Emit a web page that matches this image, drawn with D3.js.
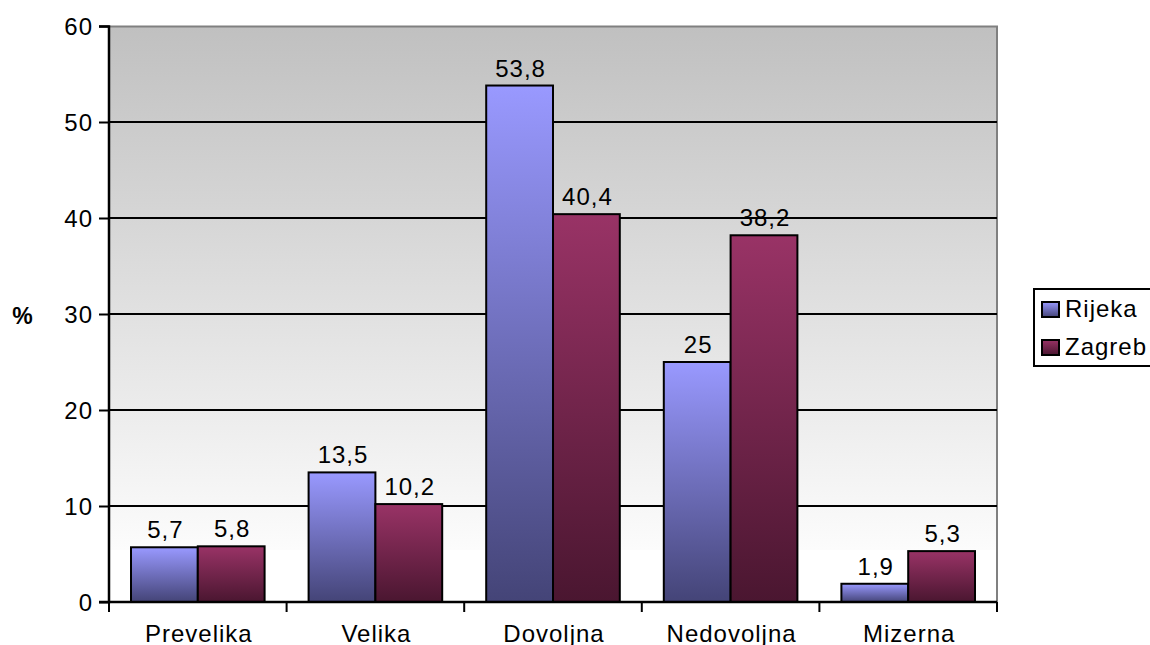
<!DOCTYPE html>
<html>
<head>
<meta charset="utf-8">
<script src="https://cdn.jsdelivr.net/npm/d3@7"></script>
<style>
  body { margin: 0; background: #fff; }
  text { font-family: "Liberation Sans", Arial, sans-serif; fill: #000; letter-spacing: 1px; }
</style>
</head>
<body>
<script>
var categories = ["Prevelika", "Velika", "Dovoljna", "Nedovoljna", "Mizerna"];
var seriesNames = ["Rijeka", "Zagreb"];
var rijeka = [5.7, 13.5, 53.8, 25, 1.9];
var zagreb = [5.8, 10.2, 40.4, 38.2, 5.3];
var yTicks = [0, 10, 20, 30, 40, 50, 60];

var W = 1150, H = 645;
var margin = {top: 26, right: 153, bottom: 43, left: 109},
	width = W - margin.left - margin.right,
	height = H - margin.top - margin.bottom;

var svg = d3.select("body").append("svg")
	.attr("width", W)
	.attr("height", H);

var defs = svg.append("defs");
var bg = defs.append("linearGradient").attr("id", "bg")
	.attr("x1", 0).attr("y1", 0).attr("x2", 0).attr("y2", 1);
bg.append("stop").attr("offset", "0%").attr("stop-color", "#c0c0c0");
bg.append("stop").attr("offset", "91%").attr("stop-color", "#fcfcfc");
bg.append("stop").attr("offset", "91%").attr("stop-color", "#ffffff");

var grads = [["#9999ff", "#444477"], ["#993366", "#4a1630"]];
grads.forEach(function(c, i) {
	var g = defs.append("linearGradient").attr("id", "s" + i)
		.attr("x1", 0).attr("y1", 0).attr("x2", 0).attr("y2", 1);
	g.append("stop").attr("offset", "0%").attr("stop-color", c[0]);
	g.append("stop").attr("offset", "100%").attr("stop-color", c[1]);
});

var chart = svg.append("g")
	.attr("transform", "translate(" + margin.left + "," + margin.top + ")");

var x = d3.scaleBand().domain(categories).range([0, width]).paddingInner(0).paddingOuter(0);
var xs = d3.scaleBand().domain(seriesNames).range([22, x.bandwidth() - 22]);
var y = d3.scaleLinear().domain([0, 60]).range([height, 0]);

// plot background
chart.append("rect")
	.attr("width", width).attr("height", height)
	.attr("fill", "url(#bg)");
chart.append("path")
	.attr("d", "M0,0.5H" + width + "V" + height)
	.attr("fill", "none").attr("stroke", "#808080").attr("stroke-width", 2);

// gridlines
chart.selectAll(".grid").data(yTicks.filter(function(d) { return d > 0 && d < 60; }))
	.enter().append("line")
	.attr("x1", 0).attr("x2", width)
	.attr("y1", function(d) { return y(d); }).attr("y2", function(d) { return y(d); })
	.attr("stroke", "#000").attr("stroke-width", 2);

var data = categories.map(function(c, i) {
	return {cat: c, vals: [rijeka[i], zagreb[i]]};
});

var grp = chart.selectAll(".grp").data(data).enter().append("g")
	.attr("transform", function(d) { return "translate(" + x(d.cat) + ",0)"; });

grp.selectAll("rect").data(function(d) {
		return d.vals.map(function(v, i) { return {s: seriesNames[i], i: i, v: v}; });
	})
	.enter().append("rect")
	.attr("x", function(d) { return xs(d.s); })
	.attr("width", xs.bandwidth())
	.attr("y", function(d) { return y(d.v); })
	.attr("height", function(d) { return y(0) - y(d.v); })
	.attr("fill", function(d) { return "url(#s" + d.i + ")"; })
	.attr("stroke", "#000").attr("stroke-width", 2);

grp.selectAll(".lbl").data(function(d) {
		return d.vals.map(function(v, i) { return {s: seriesNames[i], v: v}; });
	})
	.enter().append("text")
	.attr("x", function(d) { return xs(d.s) + xs.bandwidth() / 2 + 1; })
	.attr("y", function(d) { return y(d.v) - 9; })
	.attr("text-anchor", "middle")
	.style("font-size", "24px")
	.text(function(d) { return String(d.v).replace(".", ","); });

// axes
var yAxis = d3.axisLeft(y).tickValues(yTicks).tickSize(10).tickPadding(6);
var ya = chart.append("g").call(yAxis);
ya.select(".domain").attr("stroke-width", 2.5).attr("d", "M-10,0.5H0V" + height + "H-10");
ya.selectAll("line").attr("stroke-width", 2);
ya.selectAll("text").style("font-size", "24px").attr("dy", "0.35em");

var xAxis = d3.axisBottom(x).tickSize(0).tickPadding(23);
var xa = chart.append("g").attr("transform", "translate(0," + height + ")").call(xAxis);
xa.select(".domain").attr("stroke-width", 2.5).attr("d", "M0,0H" + width);
xa.selectAll(".tick text").style("font-size", "24px").attr("dy", "0.71em").attr("dx", 1);
xa.selectAll(".sep").data(d3.range(categories.length + 1)).enter().append("line")
	.attr("x1", function(d) { return d * x.step(); })
	.attr("x2", function(d) { return d * x.step(); })
	.attr("y1", 0).attr("y2", 10)
	.attr("stroke", "#000").attr("stroke-width", 2);

// y title
svg.append("text")
	.attr("x", 23).attr("y", 324)
	.attr("text-anchor", "middle")
	.style("font-size", "23px").style("font-weight", "bold")
	.text("%");

// legend
var lgd = svg.append("g").attr("transform", "translate(1034,289)");
lgd.append("rect").attr("width", 118).attr("height", 77)
	.attr("fill", "#fff").attr("stroke", "#000").attr("stroke-width", 2);
seriesNames.forEach(function(n, i) {
	var row = lgd.append("g").attr("transform", "translate(8," + (13 + i * 38) + ")");
	row.append("rect").attr("width", 17).attr("height", 15)
		.attr("fill", "url(#s" + i + ")").attr("stroke", "#000").attr("stroke-width", 2);
	row.append("text").attr("x", 23).attr("y", 15)
		.style("font-size", "24px").text(n);
});
</script>
</body>
</html>
